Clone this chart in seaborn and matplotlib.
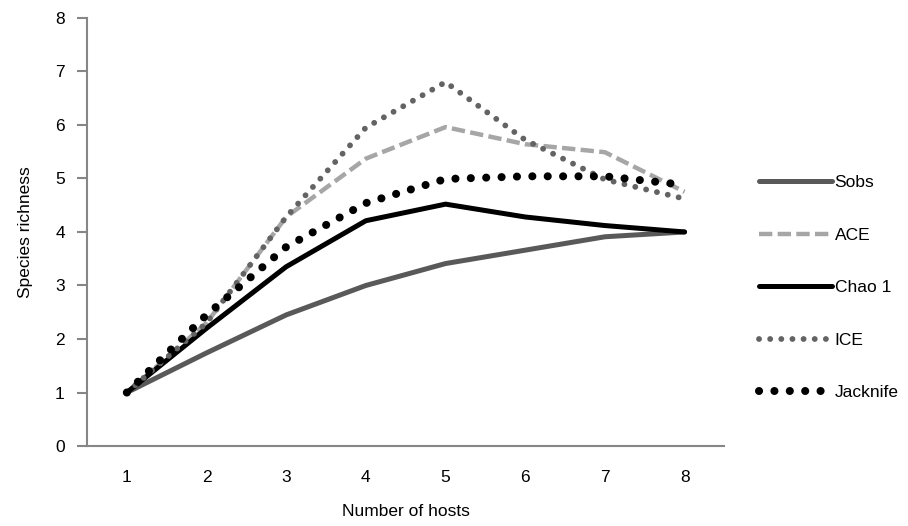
"""
Species richness estimators vs number of hosts.
"""

import matplotlib
matplotlib.use("Agg")
import matplotlib.pyplot as plt
import seaborn as sns
import pandas as pd

hosts = [1, 2, 3, 4, 5, 6, 7, 8]
sobs = [1.0, 1.74, 2.45, 3.0, 3.41, 3.66, 3.91, 4.0]
ace = [1.0, 2.3, 4.28, 5.37, 5.96, 5.64, 5.49, 4.75]
chao1 = [1.0, 2.2, 3.35, 4.21, 4.52, 4.28, 4.12, 4.0]
ice = [1.0, 2.3, 4.28, 5.95, 6.8, 5.72, 4.98, 4.62]
jacknife = [1.0, 2.45, 3.72, 4.54, 4.99, 5.04, 5.04, 4.88]
series_names = ["Sobs", "ACE", "Chao 1", "ICE", "Jacknife"]

sns.set_theme(style="white")
plt.rcParams["font.family"] = ["Liberation Sans", "DejaVu Sans"]
plt.rcParams["text.color"] = "black"
plt.rcParams["axes.labelcolor"] = "black"
plt.rcParams["xtick.color"] = "black"
plt.rcParams["ytick.color"] = "black"

df = pd.DataFrame({
    "hosts": hosts * 5,
    "richness": sobs + ace + chao1 + ice + jacknife,
    "series": [s for s in series_names for _ in hosts],
})

styles = {
    "Sobs": dict(color="#595959", lw=3.6, ls="-", cap="butt"),
    "ACE": dict(color="#a6a6a6", lw=3.2, ls=(0, (3.0, 1.2)), cap="butt"),
    "Chao 1": dict(color="#000000", lw=3.6, ls="-", cap="butt"),
    "ICE": dict(color="#636363", lw=4.2, ls=(0, (0.01, 1.9)), cap="round"),
    "Jacknife": dict(color="#000000", lw=5.8, ls=(0, (0.01, 1.9)), cap="round"),
}

fig = plt.figure(figsize=(9.08, 5.26), dpi=100)
ax = fig.add_axes([0.0958, 0.152, 0.702, 0.814])

for name in series_names:
    st = styles[name]
    sub = df[df["series"] == name]
    sns.lineplot(data=sub, x="hosts", y="richness", ax=ax, color=st["color"],
                 linewidth=st["lw"], label=name)
    line = ax.lines[-1]
    line.set_linestyle(st["ls"])
    line.set_dash_capstyle(st["cap"])
    line.set_solid_capstyle("round")
    line.set_solid_joinstyle("round")

ax.set_xlim(0.5, 8.5)
ax.set_ylim(0, 8)
ax.set_xticks(hosts)
ax.set_yticks(range(0, 9))
ax.tick_params(axis="x", length=0, pad=17, labelsize=12.5)
ax.tick_params(axis="y", length=7, width=1.5, color="#868686", pad=9,
               labelsize=12.5, left=True, labelcolor="black")

for side in ["top", "right"]:
    ax.spines[side].set_visible(False)
for side in ["left", "bottom"]:
    ax.spines[side].set_color("#868686")
    ax.spines[side].set_linewidth(1.5)

ax.set_xlabel("Number of hosts", fontsize=12.5, labelpad=14)
ax.set_ylabel("Species richness", fontsize=12.5, labelpad=16)

ax.legend(loc="center left", bbox_to_anchor=(1.03, 0.37), frameon=False,
          fontsize=12.5, handlelength=4.2, handletextpad=0.15,
          labelspacing=2.15)

plt.savefig("out.png", dpi=100)
plt.close()
